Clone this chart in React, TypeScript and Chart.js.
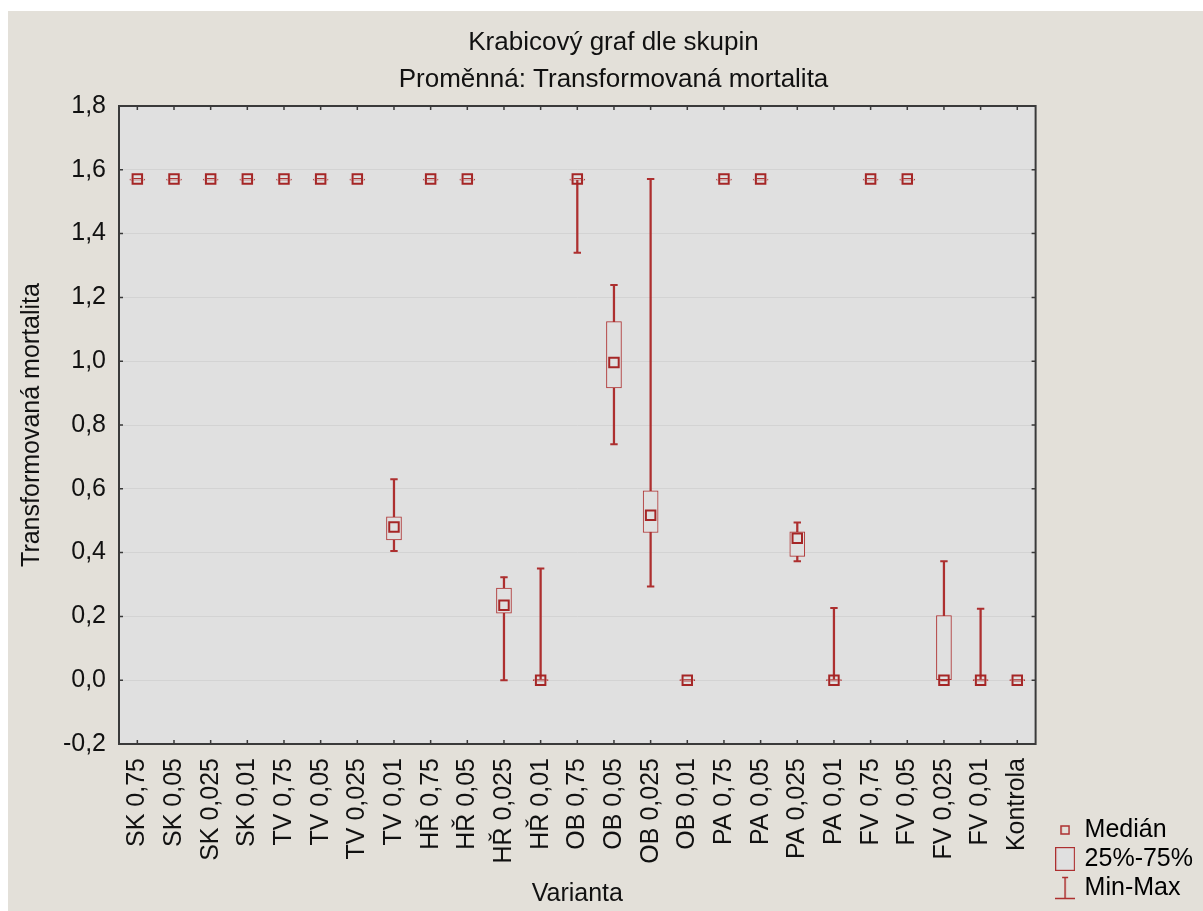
import React, { useEffect, useRef } from 'react';
import { Chart, registerables } from 'chart.js';

Chart.register(...registerables);

const chartTitle = ['Krabicový graf dle skupin', 'Proměnná: Transformovaná mortalita'];
const xAxisTitle = 'Varianta';
const yAxisTitle = 'Transformovaná mortalita';
const legendLabels = ['Medián', '25%-75%', 'Min-Max'];

const categories = [
  'SK 0,75', 'SK 0,05', 'SK 0,025', 'SK 0,01',
  'TV 0,75', 'TV 0,05', 'TV 0,025', 'TV 0,01',
  'HŘ 0,75', 'HŘ 0,05', 'HŘ 0,025', 'HŘ 0,01',
  'OB 0,75', 'OB 0,05', 'OB 0,025', 'OB 0,01',
  'PA 0,75', 'PA 0,05', 'PA 0,025', 'PA 0,01',
  'FV 0,75', 'FV 0,05', 'FV 0,025', 'FV 0,01',
  'Kontrola',
];

const minValues = [
  1.571, 1.571, 1.571, 1.571,
  1.571, 1.571, 1.571, 0.405,
  1.571, 1.571, 0, 0,
  1.34, 0.74, 0.294, 0,
  1.571, 1.571, 0.373, 0,
  1.571, 1.571, 0, 0,
  0,
];
const q1Values = [
  1.571, 1.571, 1.571, 1.571,
  1.571, 1.571, 1.571, 0.44,
  1.571, 1.571, 0.21, 0,
  1.571, 0.916, 0.463, 0,
  1.571, 1.571, 0.388, 0,
  1.571, 1.571, 0, 0,
  0,
];
const medianValues = [
  1.571, 1.571, 1.571, 1.571,
  1.571, 1.571, 1.571, 0.48,
  1.571, 1.571, 0.235, 0,
  1.571, 0.996, 0.517, 0,
  1.571, 1.571, 0.445, 0,
  1.571, 1.571, 0, 0,
  0,
];
const q3Values = [
  1.571, 1.571, 1.571, 1.571,
  1.571, 1.571, 1.571, 0.512,
  1.571, 1.571, 0.289, 0,
  1.571, 1.124, 0.594, 0,
  1.571, 1.571, 0.465, 0,
  1.571, 1.571, 0.2025, 0,
  0,
];
const maxValues = [
  1.571, 1.571, 1.571, 1.571,
  1.571, 1.571, 1.571, 0.63,
  1.571, 1.571, 0.323, 0.35,
  1.571, 1.239, 1.571, 0,
  1.571, 1.571, 0.494, 0.226,
  1.571, 1.571, 0.373, 0.224,
  0,
];

const yTickValues = [-0.2, 0, 0.2, 0.4, 0.6, 0.8, 1.0, 1.2, 1.4, 1.6, 1.8];

const RED = '#ad2f2f';
const PLOT_BG = '#e0e0e0';
const PAGE_BG = '#e3e0d9';
const FRAME = '#3a3a3a';
const FONT = '"Liberation Sans", Arial, sans-serif';

function makeIcon(w: number, h: number, draw: (ctx: CanvasRenderingContext2D) => void) {
  const c = document.createElement('canvas');
  c.width = w;
  c.height = h;
  const ctx = c.getContext('2d')!;
  draw(ctx);
  return c;
}

export default function App() {
  const canvasRef = useRef<HTMLCanvasElement | null>(null);

  useEffect(() => {
    if (!canvasRef.current) return;
    Chart.defaults.font.family = FONT;
    Chart.defaults.color = '#111111';

    const medianIcon = makeIcon(10, 10, (ctx) => {
      ctx.strokeStyle = RED;
      ctx.lineWidth = 1.5;
      ctx.strokeRect(1, 1, 8, 8);
    });
    const boxIcon = makeIcon(20, 24, (ctx) => {
      ctx.fillStyle = PLOT_BG;
      ctx.fillRect(0, 0, 20, 24);
      ctx.strokeStyle = RED;
      ctx.lineWidth = 1.2;
      ctx.strokeRect(0.6, 0.6, 18.8, 22.8);
    });
    const rangeIcon = makeIcon(20, 24, (ctx) => {
      ctx.strokeStyle = RED;
      ctx.lineWidth = 1.5;
      ctx.beginPath();
      ctx.moveTo(10, 1);
      ctx.lineTo(10, 22);
      ctx.moveTo(7, 1.5);
      ctx.lineTo(13, 1.5);
      ctx.moveTo(0, 22.5);
      ctx.lineTo(20, 22.5);
      ctx.stroke();
    });
    const icons = [medianIcon, boxIcon, rangeIcon];

    const plotBg = {
      id: 'plotBg',
      beforeDraw(chart: any) {
        const { ctx, chartArea: a } = chart;
        ctx.save();
        ctx.fillStyle = PLOT_BG;
        ctx.fillRect(a.left, a.top, a.right - a.left, a.bottom - a.top);
        ctx.restore();
      },
    };

    const frame = {
      id: 'frame',
      beforeDatasetsDraw(chart: any) {
        const { ctx, chartArea: a } = chart;
        const xs = chart.scales.x;
        const ys = chart.scales.y;
        ctx.save();
        ctx.strokeStyle = FRAME;
        ctx.lineWidth = 1.5;
        ctx.beginPath();
        for (let i = 0; i < xs.ticks.length; i++) {
          const px = xs.getPixelForTick(i);
          ctx.moveTo(px, a.bottom);
          ctx.lineTo(px, a.bottom - 4);
          ctx.moveTo(px, a.top);
          ctx.lineTo(px, a.top + 4);
        }
        for (let i = 0; i < ys.ticks.length; i++) {
          const py = ys.getPixelForTick(i);
          ctx.moveTo(a.left, py);
          ctx.lineTo(a.left + 4, py);
          ctx.moveTo(a.right, py);
          ctx.lineTo(a.right - 4, py);
        }
        ctx.stroke();
        ctx.lineWidth = 2;
        ctx.strokeRect(a.left, a.top, a.right - a.left, a.bottom - a.top);
        ctx.restore();
      },
    };

    const chart = new Chart(canvasRef.current, {
      type: 'bar',
      data: {
        labels: categories,
        datasets: [
          {
            type: 'bar',
            label: 'Min-Max',
            data: categories.map((_, i) => [minValues[i], maxValues[i]]) as any,
            backgroundColor: RED,
            borderWidth: 0,
            barThickness: 1.6,
            grouped: false,
            order: 5,
          } as any,
          {
            type: 'line',
            label: 'Max',
            data: maxValues,
            showLine: false,
            pointStyle: 'line',
            pointRadius: 3.7,
            pointBorderWidth: 2,
            pointBorderColor: RED,
            pointBackgroundColor: RED,
            order: 4,
          } as any,
          {
            type: 'line',
            label: 'Min',
            data: minValues,
            showLine: false,
            pointStyle: 'line',
            pointRadius: 3.7,
            pointBorderWidth: 2,
            pointBorderColor: RED,
            pointBackgroundColor: RED,
            order: 4,
          } as any,
          {
            type: 'bar',
            label: '25%-75%',
            data: categories.map((_, i) => [q1Values[i], q3Values[i]]) as any,
            backgroundColor: PLOT_BG,
            borderColor: RED,
            borderWidth: 1,
            borderSkipped: false,
            barThickness: 15,
            minBarLength: 1,
            grouped: false,
            order: 3,
          } as any,
          {
            type: 'line',
            label: 'Medián',
            data: medianValues,
            showLine: false,
            pointStyle: 'rect',
            pointRadius: 6.7,
            pointBorderWidth: 2,
            pointBorderColor: '#a52626',
            pointBackgroundColor: 'rgba(0,0,0,0)',
            order: 1,
          } as any,
        ],
      },
      options: {
        responsive: false,
        animation: false,
        events: [],
        layout: { padding: { left: 16, right: 0, top: 0, bottom: 6.5 } },
        plugins: {
          tooltip: { enabled: false },
          title: {
            display: true,
            text: chartTitle,
            color: '#111111',
            font: { size: 26, weight: 'normal', lineHeight: 37 / 26 },
            padding: { top: 13.5, bottom: 7.5 },
          },
          legend: {
            display: true,
            position: 'right',
            align: 'end',
            labels: {
              usePointStyle: true,
              boxWidth: 14,
              padding: 4,
              color: '#111111',
              font: { size: 25 },
              generateLabels: () =>
                legendLabels.map((text, i) => ({
                  text,
                  pointStyle: icons[i] as any,
                  fillStyle: RED,
                  strokeStyle: RED,
                  lineWidth: 0,
                  hidden: false,
                  datasetIndex: i,
                })) as any,
            },
          },
        },
        scales: {
          x: {
            type: 'category',
            offset: true,
            grid: { display: false, drawTicks: false },
            border: { display: false },
            ticks: {
              autoSkip: false,
              minRotation: 90,
              maxRotation: 90,
              padding: 14,
              color: '#111111',
              font: { size: 25 },
            },
            title: {
              display: true,
              text: xAxisTitle,
              color: '#111111',
              font: { size: 25, lineHeight: 1 },
              padding: { top: 0, bottom: -2 },
            },
            afterFit: (s: any) => {
              s.height = 160.5;
            },
          },
          y: {
            type: 'linear',
            position: 'left',
            min: -0.2,
            max: 1.8,
            grid: { color: '#d3d3d3', lineWidth: 1, drawTicks: false },
            border: { display: false },
            afterBuildTicks: (s: any) => {
              s.ticks = yTickValues.map((v) => ({ value: v }));
            },
            ticks: {
              padding: 13,
              color: '#111111',
              font: { size: 25 },
              callback: (v: any) => {
                const n = Math.abs(Number(v)) < 1e-9 ? 0 : Number(v);
                return n.toFixed(1).replace('.', ',');
              },
            },
            title: {
              display: true,
              text: yAxisTitle,
              color: '#111111',
              font: { size: 25, lineHeight: 1 },
              padding: { top: -4.5, bottom: 0 },
            },
            afterFit: (s: any) => {
              s.width = 95;
            },
          },
          y2: {
            type: 'linear',
            position: 'right',
            display: true,
            grid: { display: false, drawTicks: false },
            border: { display: false },
            ticks: { display: false },
            afterFit: (s: any) => {
              s.width = 18.5;
            },
          },
        },
      } as any,
      plugins: [plotBg, frame],
    });

    return () => {
      chart.destroy();
    };
  }, []);

  return (
    <div
      style={{
        position: 'fixed',
        left: 8,
        top: 11,
        width: 1195,
        height: 900,
        background: PAGE_BG,
        overflow: 'hidden',
      }}
    >
      <canvas ref={canvasRef} width={1195} height={900} style={{ display: 'block' }} />
    </div>
  );
}
